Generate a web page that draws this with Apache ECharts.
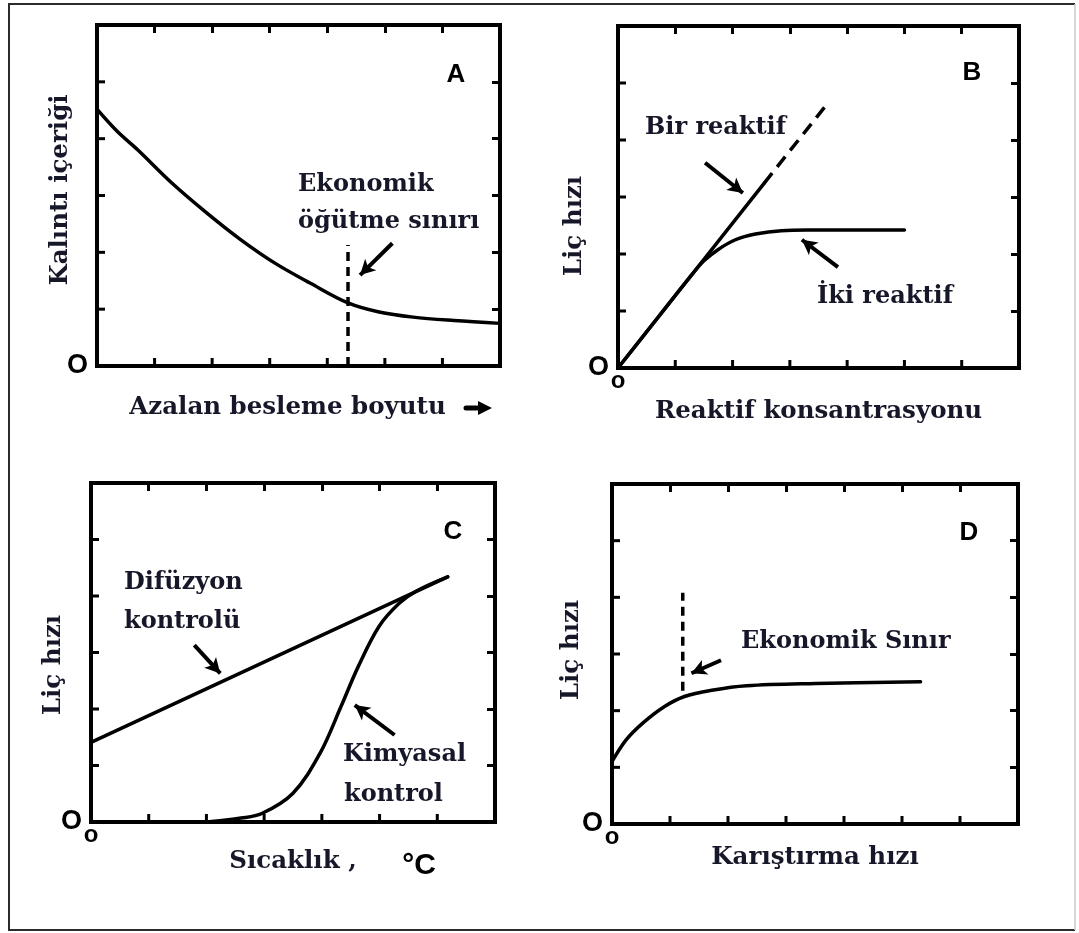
<!DOCTYPE html>
<html>
<head>
<meta charset="utf-8">
<title>Liç hızı – dört panel</title>
<script src="https://cdn.jsdelivr.net/npm/echarts/dist/echarts.min.js"></script>
<style>
  html, body { margin: 0; padding: 0; background: #ffffff; }
  #chart { width: 1079px; height: 933px; }
</style>
</head>
<body>
<div id="chart"></div>
<script>
// ---------------- data ----------------
// A: residue content vs. decreasing feed size
const residueSize    = [0, 0.35, 0.71, 1.30, 1.91, 2.50, 3.09, 3.70, 4.36, 4.90, 5.49, 6.2, 7.0];
const residueContent = [4.52, 4.13, 3.80, 3.22, 2.69, 2.22, 1.81, 1.46, 1.11, 0.95, 0.86, 0.80, 0.75];
const grindLimitSize = [4.36, 4.36];
const grindLimitLevel = [0, 2.13];

// B: leach rate vs. reagent concentration
const oneReagentConc = [0, 2.55];
const oneReagentRate = [0, 3.24];
const oneReagentExtConc = [2.55, 3.68];
const oneReagentExtRate = [3.24, 4.67];
const twoReagentConc = [0, 0.7, 1.3, 1.5, 1.75, 2.05, 2.4, 2.85, 3.3, 5.0];
const twoReagentRate = [0, 0.89, 1.65, 1.88, 2.08, 2.25, 2.35, 2.41, 2.42, 2.42];

// C: leach rate vs. temperature
const diffusionTemp = [0, 6.18];
const diffusionRate = [1.41, 4.34];
const chemicalTemp = [2.0, 2.6, 2.96, 3.5, 3.97, 4.33, 4.63, 4.99, 5.34, 5.64, 6.18];
const chemicalRate = [0, 0.07, 0.15, 0.51, 1.22, 2.04, 2.75, 3.46, 3.87, 4.09, 4.34];

// D: leach rate vs. stirring speed
const stirSpeed = [0, 0.24, 0.53, 0.9, 1.25, 1.72, 2.32, 3.51, 5.32];
const stirRate  = [1.1, 1.48, 1.78, 2.07, 2.25, 2.36, 2.44, 2.48, 2.51];
const econLimitSpeed = [1.22, 1.22];
const econLimitLevel = [2.35, 4.08];

// pointer arrows per panel: [fromX, fromY, toX, toY]
const arrowsA = [[5.13, 2.16, 4.57, 1.60]];
const arrowsB = [[1.52, 3.60, 2.18, 3.07], [3.84, 1.77, 3.21, 2.25]];
const arrowsC = [[1.79, 3.13, 2.24, 2.63], [5.26, 1.54, 4.57, 2.07]];
const arrowsD = [[1.88, 2.89, 1.37, 2.66]];

// axis extents, frame tick values and origin tick labels
const xMax = 7, yMax = 6;
const xTickValues = [1, 2, 3, 4, 5, 6];
const yTickValues = [1, 2, 3, 4, 5];
const originLabelY = 'O';
const originLabelX = 'o';

// ---------------- styling / layout ----------------
const INK = '#000000';
const TEXT = '#17172a';
const SERIF = 'DejaVu Serif';
const SANS = 'Liberation Sans';
const TICK_LEN = 8, TICK_W = 3;

const panels = [
  { rect: { left: 97,  top: 25,  width: 403, height: 341 }, xName: 'Azalan besleme boyutu', yName: 'Kalıntı içeriği',
    xGap: 29, yGap: 24, xPad: [0, 22, 0, 0], yPad: [0, 0, 0, 11], xOrigin: false },
  { rect: { left: 618, top: 26,  width: 401, height: 342 }, xName: 'Reaktif konsantrasyonu', yName: 'Liç hızı',
    xGap: 31, yGap: 31, xPad: [0, 0, 0, 0], yPad: [0, 58, 0, 0], xOrigin: true },
  { rect: { left: 91,  top: 483, width: 404, height: 339 }, xName: 'Sıcaklık ,', yName: 'Liç hızı',
    xGap: 27, yGap: 25, xPad: [0, 0, 0, 0], yPad: [0, 25, 0, 0], xOrigin: true },
  { rect: { left: 612, top: 484, width: 406, height: 340 }, xName: 'Karıştırma hızı', yName: 'Liç hızı',
    xGap: 21, yGap: 28, xPad: [0, 0, 0, 0], yPad: [0, 0, 0, 8], xOrigin: true }
];

const pts = (xs, ys) => xs.map((x, k) => [x, ys[k]]);

const nameStyle = (pad) => ({ fontFamily: SERIF, fontWeight: 'bold', fontSize: 24.5, color: TEXT, padding: pad });
const originLabel = (txt, size, extra) => Object.assign({
  show: true, showMinLabel: true,
  formatter: (v) => (v === 0 ? txt : ''),
  fontFamily: SANS, fontWeight: 'bold', fontSize: size, color: INK
}, extra);

// Per panel: x axes = [bottom title/origin, top frame ticks]; y axes = [left title/origin, right frame ticks].
const X_PER = 2, Y_PER = 2;
const grid = [], xAxis = [], yAxis = [];
panels.forEach((p, i) => {
  grid.push(Object.assign({ show: true, borderColor: INK, borderWidth: 4, backgroundColor: 'transparent',
    containLabel: false, outerBoundsMode: 'none' }, p.rect));
  const axis = (max, position, extra) => Object.assign({
    gridIndex: i, type: 'value', min: 0, max: max, interval: 1, position: position,
    axisLine: { show: false, onZero: false }, axisTick: { show: false },
    axisLabel: { show: false }, splitLine: { show: false }
  }, extra);
  const inner = { show: true, inside: true, length: TICK_LEN, lineStyle: { color: INK, width: TICK_W } };
  xAxis.push(axis(xMax, 'bottom', {
    axisLabel: p.xOrigin ? originLabel(originLabelX, 24, { margin: 1 }) : { show: false },
    name: p.xName, nameLocation: 'middle', nameMoveOverlap: false, nameGap: p.xGap, nameTextStyle: nameStyle(p.xPad)
  }));
  xAxis.push(axis(xMax, 'top', { axisTick: inner }));
  yAxis.push(axis(yMax, 'left', {
    axisLabel: originLabel(originLabelY, 27, { margin: 9, padding: i < 2 ? [0, 0, 12, 0] : [0, 0, 4, 0] }),
    name: p.yName, nameLocation: 'middle', nameMoveOverlap: false, nameGap: p.yGap, nameRotate: 90,
    nameTextStyle: nameStyle(p.yPad)
  }));
  yAxis.push(axis(yMax, 'right', { axisTick: inner }));
});

const solid = (w) => ({ color: INK, width: w, type: 'solid', cap: 'round', join: 'round' });
const dashed = (w, pattern) => ({ color: INK, width: w, type: pattern });

function curve(name, panel, data, style, smooth, arrows) {
  const s = {
    name: name, type: 'line', xAxisIndex: panel * X_PER, yAxisIndex: panel * Y_PER,
    data: data, showSymbol: false, symbol: 'none', lineStyle: style,
    smooth: smooth ? 0.35 : false, silent: true, animation: false, z: 3
  };
  if (arrows) {
    s.markLine = {
      silent: true, animation: false, symbol: ['none', 'arrow'], symbolSize: [12, 15],
      lineStyle: { color: INK, width: 4, type: 'solid' }, label: { show: false },
      emphasis: { disabled: true },
      data: arrows.map(a => [{ coord: [a[0], a[1]] }, { coord: [a[2], a[3]] }])
    };
  }
  return s;
}

const series = [
  curve('Kalıntı içeriği', 0, pts(residueSize, residueContent), solid(3.5), true, arrowsA),
  curve('Ekonomik öğütme sınırı', 0, pts(grindLimitSize, grindLimitLevel), dashed(3.5, [9, 6]), false),

  curve('Bir reaktif', 1, pts(oneReagentConc, oneReagentRate), solid(3.5), false, arrowsB),
  curve('Bir reaktif (uzatma)', 1, pts(oneReagentExtConc, oneReagentExtRate), dashed(3.5, [13, 8]), false),
  curve('İki reaktif', 1, pts(twoReagentConc, twoReagentRate), solid(3.5), true),

  curve('Difüzyon kontrolü', 2, pts(diffusionTemp, diffusionRate), solid(3.5), false, arrowsC),
  curve('Kimyasal kontrol', 2, pts(chemicalTemp, chemicalRate), solid(3.5), true),

  curve('Liç hızı', 3, pts(stirSpeed, stirRate), solid(3.5), true, arrowsD),
  curve('Ekonomik Sınır', 3, pts(econLimitSpeed, econLimitLevel), dashed(3.5, [9, 6]), false)
];

// curve annotations (left aligned, vertically centred on y)
const notes = [
  { x: 298, y: 185, text: 'Ekonomik' },
  { x: 298, y: 222, text: 'öğütme sınırı' },
  { x: 645, y: 128, text: 'Bir reaktif' },
  { x: 817, y: 297, text: 'İki reaktif' },
  { x: 124, y: 583, text: 'Difüzyon' },
  { x: 124, y: 622, text: 'kontrolü' },
  { x: 343, y: 755, text: 'Kimyasal' },
  { x: 344, y: 795, text: 'kontrol' },
  { x: 741, y: 642, text: 'Ekonomik Sınır' }
];
const letters = [
  { x: 456, y: 75, text: 'A', size: 26 }, { x: 972, y: 73, text: 'B', size: 26 },
  { x: 453, y: 532, text: 'C', size: 26 }, { x: 969, y: 533, text: 'D', size: 26 },
  { x: 419, y: 866, text: '°C', size: 30 }
];

const graphic = [
  // outer frame
  { type: 'polyline', silent: true, shape: { points: [[1075, 4], [9, 4], [9, 930], [1075, 930]] },
    style: { stroke: '#2b2b2b', lineWidth: 2, fill: null } },
  { type: 'line', silent: true, shape: { x1: 1075, y1: 4, x2: 1075, y2: 930 },
    style: { stroke: '#c8c8c8', lineWidth: 1.5 } },
  // arrow after the A x-axis title
  { type: 'line', silent: true, shape: { x1: 466, y1: 408, x2: 481, y2: 408 },
    style: { stroke: INK, lineWidth: 5, lineCap: 'round' } },
  { type: 'polygon', silent: true, shape: { points: [[478, 401], [492, 408], [478, 415]] },
    style: { fill: INK } }
];
notes.forEach(n => graphic.push({
  type: 'text', silent: true, x: n.x, y: n.y,
  style: { text: n.text, fill: TEXT, font: 'bold 24px "' + SERIF + '"', align: 'left', verticalAlign: 'middle' }
}));
letters.forEach(n => graphic.push({
  type: 'text', silent: true, x: n.x, y: n.y,
  style: { text: n.text, fill: INK, font: 'bold ' + n.size + 'px "' + SANS + '"', align: 'center', verticalAlign: 'middle' }
}));

const chart = echarts.init(document.getElementById('chart'), null, { renderer: 'canvas' });
chart.setOption({
  animation: false,
  backgroundColor: '#ffffff',
  grid: grid,
  xAxis: xAxis,
  yAxis: yAxis,
  series: series,
  graphic: graphic
});

// inner frame ticks along the bottom and left edges, positioned through each panel's scales
const edgeTicks = [];
panels.forEach((p, i) => {
  xTickValues.forEach(v => {
    const pt = chart.convertToPixel({ gridIndex: i }, [v, 0]);
    edgeTicks.push({ type: 'line', silent: true, z: 100,
      shape: { x1: pt[0], y1: pt[1], x2: pt[0], y2: pt[1] - TICK_LEN },
      style: { stroke: INK, lineWidth: TICK_W } });
  });
  yTickValues.forEach(v => {
    const pt = chart.convertToPixel({ gridIndex: i }, [0, v]);
    edgeTicks.push({ type: 'line', silent: true, z: 100,
      shape: { x1: pt[0], y1: pt[1], x2: pt[0] + TICK_LEN, y2: pt[1] },
      style: { stroke: INK, lineWidth: TICK_W } });
  });
});
chart.setOption({ graphic: graphic.concat(edgeTicks) });
</script>
</body>
</html>
